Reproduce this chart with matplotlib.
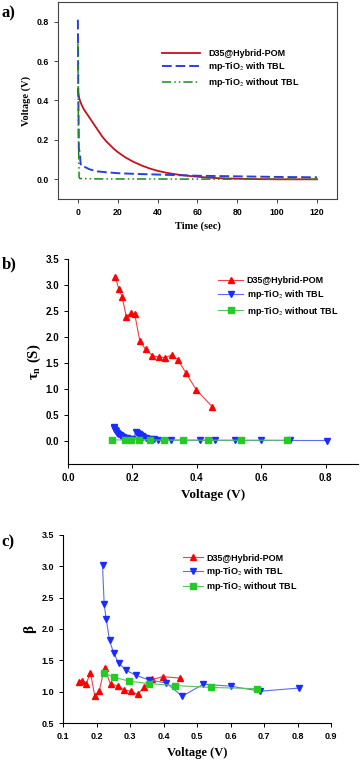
import numpy as np
import matplotlib
matplotlib.use('Agg')
import matplotlib.pyplot as plt

plt.rcParams['font.family'] = ['Liberation Sans', 'DejaVu Sans']
plt.rcParams['mathtext.fontset'] = 'stix'

##############################
# a) voltage decay
t_d35 = [0, 0.5, 1, 2, 3, 4, 6, 8, 10, 12, 14, 16, 18, 20, 24, 28, 32, 36, 40,
         45, 50, 55, 60, 65, 70, 80, 90, 100, 120]
v_d35 = [0.45, 0.42, 0.40, 0.375, 0.355, 0.34, 0.31, 0.28, 0.25, 0.22, 0.195,
         0.175, 0.155, 0.138, 0.11, 0.088, 0.07, 0.055, 0.043, 0.032, 0.024,
         0.018, 0.013, 0.009, 0.006, 0.003, 0.001, 0.0, 0.0]
t_tbl = [0, 0.2, 0.5, 1.0, 1.2, 1.5, 2, 4, 6, 10, 15, 20, 30, 40, 50, 60, 80, 100, 120]
v_tbl = [0.81, 0.45, 0.15, 0.14, 0.10, 0.07, 0.068, 0.06, 0.05, 0.04, 0.035,
         0.031, 0.027, 0.024, 0.021, 0.018, 0.015, 0.012, 0.01]
t_notbl = [0, 0.3, 0.6, 1, 10, 60, 120]
v_notbl = [0.69, 0.2, 0.01, 0.004, 0.002, 0.001, 0.0]

##############################
# b) lifetime vs voltage
vb_d35 = [0.147, 0.157, 0.168, 0.181, 0.194, 0.207, 0.223, 0.241, 0.262, 0.281,
          0.301, 0.322, 0.341, 0.366, 0.398, 0.448]
tau_d35 = [3.15, 2.93, 2.77, 2.38, 2.46, 2.44, 1.91, 1.76, 1.64, 1.61, 1.60,
           1.65, 1.56, 1.30, 0.98, 0.65]
vb_tbl = [0.142, 0.144, 0.146, 0.149, 0.152, 0.156, 0.160, 0.165, 0.170, 0.176,
          0.183, 0.191, 0.200, 0.212, 0.215, 0.219, 0.223, 0.228, 0.234, 0.241,
          0.249, 0.258, 0.268, 0.280, 0.318, 0.408, 0.455, 0.518, 0.600, 0.688, 0.805]
tau_tbl = [0.27, 0.24, 0.21, 0.18, 0.15, 0.125, 0.10, 0.085, 0.07, 0.055, 0.045,
           0.035, 0.028, 0.17, 0.15, 0.125, 0.10, 0.08, 0.065, 0.05, 0.04, 0.03,
           0.022, 0.016, 0.01, 0.006, 0.005, 0.004, 0.003, 0.003, 0.002]
vb_notbl = [0.135, 0.177, 0.196, 0.220, 0.255, 0.297, 0.357, 0.435, 0.538, 0.678]
tau_notbl = [0.015, 0.012, 0.02, 0.02, 0.012, 0.01, 0.01, 0.008, 0.008, 0.008]

##############################
# c) beta vs voltage
vc_d35 = vb_d35
beta_d35 = [1.16, 1.18, 1.13, 1.30, 0.93, 1.01, 1.38, 1.12, 1.10, 1.03, 1.01,
            0.96, 1.07, 1.20, 1.24, 1.22]
vc_tbl = [0.217, 0.222, 0.228, 0.238, 0.250, 0.265, 0.288, 0.318, 0.355, 0.408,
          0.455, 0.518, 0.600, 0.688, 0.805]
beta_tbl = [3.01, 2.39, 2.16, 1.82, 1.62, 1.46, 1.34, 1.26, 1.19, 1.14, 0.93,
            1.12, 1.09, 1.01, 1.06]
vc_notbl = [0.220, 0.252, 0.297, 0.357, 0.435, 0.540, 0.678]
beta_notbl = [1.30, 1.23, 1.17, 1.13, 1.10, 1.07, 1.05]

labels = ['D35@Hybrid-POM', r'mp-TiO$_2$ with TBL', r'mp-TiO$_2$ without TBL']

serif = ['Liberation Serif', 'DejaVu Serif']
fig = plt.figure(figsize=(3.6, 7.61), dpi=100)

##############################
ax1 = fig.add_axes([0.161, 0.7385, 0.775, 0.2589])
ax1.plot(t_d35, v_d35, color='#c8101e', lw=1.3, label=labels[0])
ax1.plot(t_tbl, v_tbl, color='#2a3fe0', lw=1.4, ls=(0, (5, 2)), label=labels[1])
ax1.plot(t_notbl, v_notbl, color='#178a17', lw=1.1, ls=(0, (6, 2, 1, 2, 1, 2)), label=labels[2])
ax1.set_xlim(-10, 130)
ax1.set_ylim(-0.1, 0.9)
ax1.set_xticks(np.arange(0, 121, 20))
ax1.set_yticks(np.arange(0, 0.81, 0.2))
ax1.set_yticklabels(['0.0', '0.2', '0.4', '0.6', '0.8'])
for s in ax1.spines.values():
    s.set_color('#444444')
    s.set_linewidth(0.8)
ax1.tick_params(labelsize=6.3, length=3, width=0.7, color='#444444')
for lab in ax1.get_xticklabels() + ax1.get_yticklabels():
    lab.set_fontweight('bold')
ax1.set_xlabel('Time (sec)', family=serif, fontweight='bold', fontsize=7.5, labelpad=3)
ax1.set_ylabel('Voltage (V)', family=serif, fontweight='bold', fontsize=7.5, labelpad=4)
ax1.legend(loc='center left', bbox_to_anchor=(0.373, 0.66), frameon=False,
           handlelength=4.2, handletextpad=0.9, labelspacing=0.25,
           borderpad=0, borderaxespad=0, prop={'weight': 'bold', 'size': 6.5})
fig.text(0.005, 0.983, 'a)', family=serif, fontweight='bold', fontsize=12, va='center')

##############################
ax2 = fig.add_axes([0.189, 0.3903, 0.8056, 0.2694])
ax2.plot(vb_d35, tau_d35, color='#f04040', lw=0.8, marker='^', ms=4.5,
         mfc='#ff0000', mec='#ff0000', label=labels[0])
ax2.plot(vb_tbl, tau_tbl, color='#5a6cf0', lw=0.8, marker='v', ms=5,
         mfc='#1a2cff', mec='#1a2cff', label=labels[1])
ax2.plot(vb_notbl, tau_notbl, color='#60c060', lw=0.8, marker='s', ms=4,
         mfc='#22cc22', mec='#22cc22', label=labels[2])
ax2.set_xlim(0, 0.9)
ax2.set_ylim(-0.45, 3.5)
ax2.set_xticks([0, 0.2, 0.4, 0.6, 0.8])
ax2.set_xticklabels(['0.0', '0.2', '0.4', '0.6', '0.8'])
ax2.set_yticks(np.arange(0, 3.51, 0.5))
ax2.set_yticklabels(['%.1f' % v for v in np.arange(0, 3.51, 0.5)])
ax2.spines['top'].set_visible(False)
ax2.spines['right'].set_visible(False)
ax2.tick_params(labelsize=7, length=3, width=0.7)
for lab in ax2.get_xticklabels() + ax2.get_yticklabels():
    lab.set_fontweight('bold')
ax2.set_xlabel('Voltage (V)', family=serif, fontweight='bold', fontsize=9.5, labelpad=4)
ax2.set_ylabel(r'τ$_\mathbf{n}$ (S)', family=serif, fontweight='bold', fontsize=10.5, labelpad=2)
ax2.legend(loc='center left', bbox_to_anchor=(0.517, 0.815), frameon=False,
           handlelength=2.8, handletextpad=0.4, labelspacing=0.35,
           borderpad=0, borderaxespad=0, prop={'weight': 'bold', 'size': 6.5})
fig.text(0.005, 0.652, 'b)', family=serif, fontweight='bold', fontsize=12, va='center')

##############################
ax3 = fig.add_axes([0.176, 0.0496, 0.7436, 0.2478])
ax3.plot(vc_d35, beta_d35, color='#f04040', lw=0.8, marker='^', ms=4.5,
         mfc='#ff0000', mec='#ff0000', label=labels[0])
ax3.plot(vc_tbl, beta_tbl, color='#5a6cf0', lw=0.8, marker='v', ms=4.5,
         mfc='#1a2cff', mec='#1a2cff', label=labels[1])
ax3.plot(vc_notbl, beta_notbl, color='#60c060', lw=0.8, marker='s', ms=4,
         mfc='#22cc22', mec='#22cc22', label=labels[2])
ax3.set_xlim(0.1, 0.9)
ax3.set_ylim(0.5, 3.5)
ax3.set_xticks(np.arange(0.1, 0.91, 0.1))
ax3.set_xticklabels(['%.1f' % v for v in np.arange(0.1, 0.91, 0.1)])
ax3.set_yticks(np.arange(0.5, 3.51, 0.5))
ax3.set_yticklabels(['%.1f' % v for v in np.arange(0.5, 3.51, 0.5)])
ax3.spines['top'].set_visible(False)
ax3.spines['right'].set_visible(False)
ax3.tick_params(labelsize=6.5, length=3, width=0.7)
for lab in ax3.get_xticklabels() + ax3.get_yticklabels():
    lab.set_fontweight('bold')
ax3.set_xlabel('Voltage (V)', family=serif, fontweight='bold', fontsize=9, labelpad=4)
ax3.set_ylabel('β', family=serif, fontweight='bold', fontsize=11, labelpad=4)
ax3.legend(loc='center left', bbox_to_anchor=(0.447, 0.795), frameon=False,
           handlelength=2.2, handletextpad=0.4, labelspacing=0.25,
           borderpad=0, borderaxespad=0, prop={'weight': 'bold', 'size': 6.5})
fig.text(0.005, 0.287, 'c)', family=serif, fontweight='bold', fontsize=12, va='center')

plt.savefig('out.png', dpi=100)
